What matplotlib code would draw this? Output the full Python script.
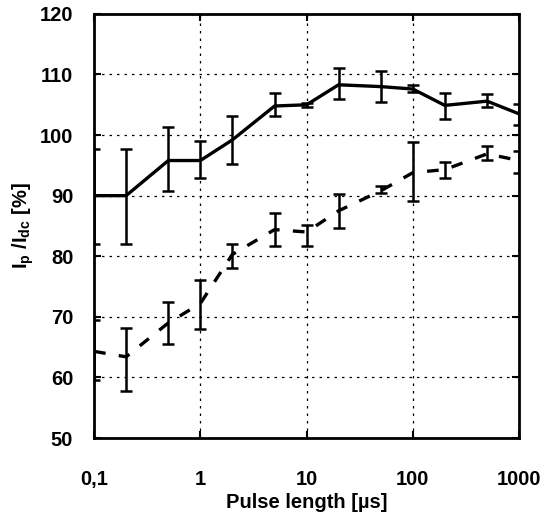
import numpy as np
import matplotlib
matplotlib.use("Agg")
import matplotlib.pyplot as plt
from matplotlib.ticker import FixedLocator, FixedFormatter, NullLocator

plt.rcParams['font.family'] = ['Liberation Sans', 'DejaVu Sans']
plt.rcParams['font.weight'] = 'bold'
plt.rcParams['mathtext.fontset'] = 'custom'
plt.rcParams['mathtext.rm'] = 'Liberation Sans:bold'
plt.rcParams['mathtext.bf'] = 'Liberation Sans:bold'
plt.rcParams['mathtext.default'] = 'bf'

# Pulslängen [µs]
pulse = [0.1, 0.2, 0.5, 1, 2, 5, 10, 20, 50, 100, 200, 500, 1000]

# durchgezogene Kurve
solid_val = [90.0, 90.0, 95.8, 95.8, 99.2, 104.8, 105.0, 108.3, 108.0, 107.6, 104.9, 105.6, 103.5]
solid_lo = [82.0, 82.0, 90.7, 92.9, 95.2, 103.1, 104.7, 105.9, 105.5, 107.1, 102.7, 104.6, 101.6]
solid_hi = [97.7, 97.7, 101.3, 99.1, 103.1, 106.9, 105.3, 111.1, 110.6, 108.2, 107.0, 106.7, 105.1]

# gestrichelte Kurve
dash_val = [64.3, 63.4, 69.0, 72.2, 80.3, 84.4, 84.0, 87.5, 90.8, 93.8, 94.3, 96.9, 95.8]
dash_lo = [59.6, 57.7, 65.5, 68.0, 78.0, 81.7, 81.7, 84.6, 90.4, 89.2, 92.9, 95.9, 93.8]
dash_hi = [69.5, 68.2, 72.4, 76.0, 82.0, 87.2, 85.1, 90.3, 91.6, 98.8, 95.6, 98.2, 97.4]

x_ticks = [0.1, 1, 10, 100, 1000]
x_labels = ['0,1', '1', '10', '100', '1000']
y_ticks = [50, 60, 70, 80, 90, 100, 110, 120]

fig = plt.figure(figsize=(5.47, 5.15), dpi=100)
ax = fig.add_axes([0.172, 0.1495, 0.777, 0.8235])

def draw(vals, lo, hi, ls):
    v = np.array(vals)
    yerr = [v - np.array(lo), np.array(hi) - v]
    ax.errorbar(pulse, v, yerr=yerr, color='black', lw=2.4, ls=ls,
                elinewidth=1.8, capsize=4.5, capthick=1.8, clip_on=True)

draw(solid_val, solid_lo, solid_hi, '-')
draw(dash_val, dash_lo, dash_hi, (0, (3.5, 4)))

ax.set_xscale('log')
ax.set_xlim(0.1, 1000)
ax.set_ylim(50, 120)
ax.xaxis.set_major_locator(FixedLocator(x_ticks))
ax.xaxis.set_major_formatter(FixedFormatter(x_labels))
ax.xaxis.set_minor_locator(NullLocator())
ax.set_yticks(y_ticks)

ax.grid(True, color='black', linestyle=(0, (2, 4)), linewidth=0.9)
ax.tick_params(direction='in', length=5, width=1.5, top=True, right=True,
               labelsize=14.5)
ax.tick_params(axis='x', pad=23)
ax.tick_params(axis='y', pad=15)
for s in ax.spines.values():
    s.set_linewidth(2)

ax.set_xlabel('Pulse length [µs]', fontsize=14.5, fontweight='bold', labelpad=3)
ax.set_ylabel(r'I$_p$ /I$_{dc}$ [%]', fontsize=14.5, fontweight='bold', labelpad=3)

fig.savefig('out.png', dpi=100)
